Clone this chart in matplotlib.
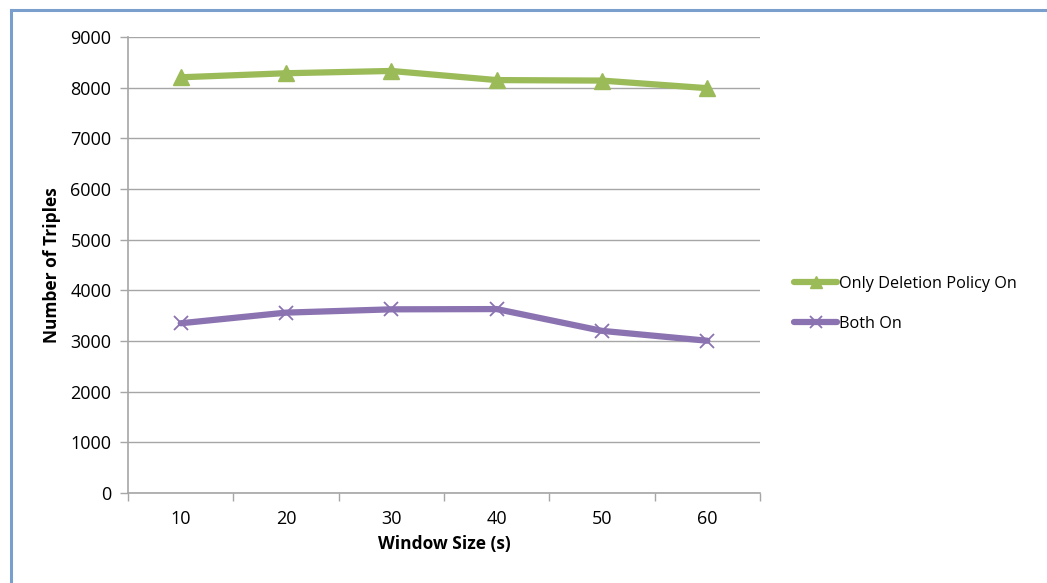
import matplotlib
matplotlib.use("Agg")
import matplotlib.pyplot as plt
from matplotlib.lines import Line2D

# data
window_sizes = ["10", "20", "30", "40", "50", "60"]
only_deletion = [8205, 8285, 8330, 8150, 8140, 7990]
both_on = [3350, 3560, 3625, 3630, 3200, 3005]

green = "#9BBB59"
purple = "#8B72B0"
grid_grey = "#A6A6A6"

plt.rcParams['font.family'] = ['Open Sans', 'DejaVu Sans']

fig = plt.figure(figsize=(10.47, 5.83), dpi=100)
ax = fig.add_axes([0.1223, 0.1544, 0.6036, 0.7821])

x = list(range(len(window_sizes)))
ax.plot(x, only_deletion, color=green, lw=4.5, marker="^", ms=11,
        mfc=green, mec=green, label="Only Deletion Policy On", solid_capstyle="round")
ax.plot(x, both_on, color=purple, lw=4.5, marker="x", ms=10, mew=1.3,
        mec=purple, label="Both On", solid_capstyle="round")

ax.set_xlim(-0.5, len(window_sizes) - 0.5)
ax.set_ylim(0, 9000)
ax.set_yticks(range(0, 9001, 1000))
ax.yaxis.grid(True, color=grid_grey, lw=1)
ax.set_axisbelow(True)

# category axis: ticks on boundaries, labels in the middle
ax.set_xticks([i - 0.5 for i in range(len(window_sizes) + 1)])
ax.set_xticklabels([])
ax.set_xticks(x, minor=True)
ax.set_xticklabels(window_sizes, minor=True)
ax.tick_params(axis="x", which="minor", length=0, pad=12, labelsize=13)
ax.tick_params(axis="x", which="major", length=6, color=grid_grey, width=1)
ax.tick_params(axis="y", length=6, color=grid_grey, width=1, labelsize=13, pad=6)

for s in ["top", "right"]:
    ax.spines[s].set_visible(False)
for s in ["left", "bottom"]:
    ax.spines[s].set_color(grid_grey)
    ax.spines[s].set_linewidth(1.2)

ax.set_xlabel("Window Size (s)", fontweight="bold", fontsize=12.5, labelpad=5)
ax.set_ylabel("Number of Triples", fontweight="bold", fontsize=12.5, labelpad=7)

ax.legend(loc="center left", bbox_to_anchor=(1.03, 0.415), frameon=False,
          fontsize=11.7, handlelength=2.7, handletextpad=0.1, labelspacing=1.5,
          markerscale=0.8)

# blue frame (top and left edge only visible)
fig.add_artist(Line2D([0.0105, 1.0], [0.982, 0.982], transform=fig.transFigure,
                      color="#7A9FCC", lw=2.2))
fig.add_artist(Line2D([0.0105, 0.0105], [0.0, 0.982], transform=fig.transFigure,
                      color="#7A9FCC", lw=2.2))

fig.savefig("out.png", dpi=100)
